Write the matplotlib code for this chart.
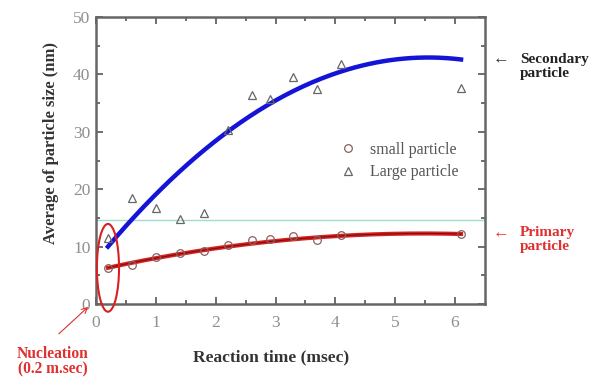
import numpy as np
import matplotlib
matplotlib.use("Agg")
import matplotlib.pyplot as plt
from matplotlib.patches import Ellipse

plt.rcParams['font.family'] = ['Liberation Serif', 'DejaVu Serif']

# Data
time_small = [0.2, 0.6, 1.0, 1.4, 1.8, 2.2, 2.6, 2.9, 3.3, 3.7, 4.1, 6.1]
size_small = [6.3, 6.8, 8.2, 8.8, 9.2, 10.2, 11.1, 11.3, 11.8, 11.1, 12.0, 12.2]
time_large = [0.2, 0.6, 1.0, 1.4, 1.8, 2.2, 2.6, 2.9, 3.3, 3.7, 4.1, 6.1]
size_large = [11.5, 18.5, 16.7, 14.8, 15.8, 30.3, 36.5, 35.8, 39.5, 37.4, 41.8, 37.6]

# Trend curves
trend_x = [0.2, 2.2, 4.0, 6.1]
trend_large = [10.0, 30.0, 40.2, 42.6]
trend_small = [6.3, 10.0, 11.8, 12.2]
threshold = 14.6

fig = plt.figure(figsize=(5.9, 3.79), dpi=100)
ax = fig.add_axes([0.1627, 0.198, 0.822 - 0.1627, 0.955 - 0.198])

xs = np.linspace(trend_x[0], trend_x[-1], 200)
pl = np.polyfit(trend_x, trend_large, 2)
ps = np.polyfit(trend_x, trend_small, 2)

ax.axhline(threshold, color='#9fdccc', lw=1.0, zorder=1)
ax.plot(xs, np.polyval(pl, xs), color='#1414d8', lw=3.2, zorder=3)
ax.plot(xs, np.polyval(ps, xs), color='#d82020', lw=3.0, zorder=3)
ax.plot(xs, np.polyval(ps, xs), color='#7a1010', lw=0.8, zorder=3)

ax.plot(time_small, size_small, linestyle='none', marker='o', ms=5.5,
        mfc='none', mec='#8a6060', mew=0.9, label='small particle', zorder=4)
ax.plot(time_large, size_large, linestyle='none', marker='^', ms=6,
        mfc='none', mec='#666666', mew=0.9, label='Large particle', zorder=4)

ax.set_xlim(0, 6.5)
ax.set_ylim(0, 50)
ax.set_xticks(range(0, 7))
ax.set_yticks(range(0, 51, 10))
ax.set_xticks(np.arange(0.5, 6.5, 1.0), minor=True)
ax.set_yticks(np.arange(5, 50, 10), minor=True)
ax.tick_params(which='both', direction='in', top=True, right=True,
               color='#555555', width=1.2)
ax.tick_params(which='major', length=5, labelsize=12.5, labelcolor='#8f8f8f')
ax.tick_params(axis='x', which='major', pad=8)
ax.tick_params(axis='y', which='major', pad=4)
ax.tick_params(which='minor', length=3)
for s in ax.spines.values():
    s.set_color('#666666')
    s.set_linewidth(1.8)

ax.set_xlabel('Reaction time (msec)', fontsize=12.5, fontweight='bold', color='#333333')
ax.xaxis.set_label_coords(0.45, -0.16)
ax.set_ylabel('Average of particle size (nm)', fontsize=12, fontweight='bold', color='#333333')
ax.yaxis.set_label_coords(-0.095, 0.56)

leg = ax.legend(loc='upper left', bbox_to_anchor=(0.59, 0.615), frameon=False,
                fontsize=11.5, handletextpad=0.9, labelspacing=0.4, handlelength=1.0)
for t in leg.get_texts():
    t.set_color('#555555')

ell = Ellipse((0.2, 6.3), 0.37, 15.3, fill=False, edgecolor='#d82020', lw=1.5,
              clip_on=False, zorder=5)
ax.add_patch(ell)

ax.annotate('', xy=(-0.13, -0.5), xytext=(-0.62, -5.2),
            xycoords='data', textcoords='data', annotation_clip=False,
            arrowprops=dict(arrowstyle='->', color='#e03030', lw=0.8,
                            shrinkA=0, shrinkB=0))
ax.text(-0.72, -7.3, 'Nucleation\n(0.2 m.sec)', color='#e03030',
        fontsize=11.2, fontweight='bold', ha='center', va='top',
        linespacing=1.0, clip_on=False)

fig.text(0.835, 0.842, '\u2190', color='#333333', fontsize=12, ha='left', va='center')
fig.text(0.881, 0.825, 'Secondary\nparticle', color='#222222', fontsize=11,
         fontweight='bold', ha='left', va='center', linespacing=1.1)
fig.text(0.835, 0.383, '\u2190', color='#e03030', fontsize=12, ha='left', va='center')
fig.text(0.881, 0.368, 'Primary\nparticle', color='#e03030', fontsize=11,
         fontweight='bold', ha='left', va='center', linespacing=1.1)

fig.savefig('out.png', dpi=100)
